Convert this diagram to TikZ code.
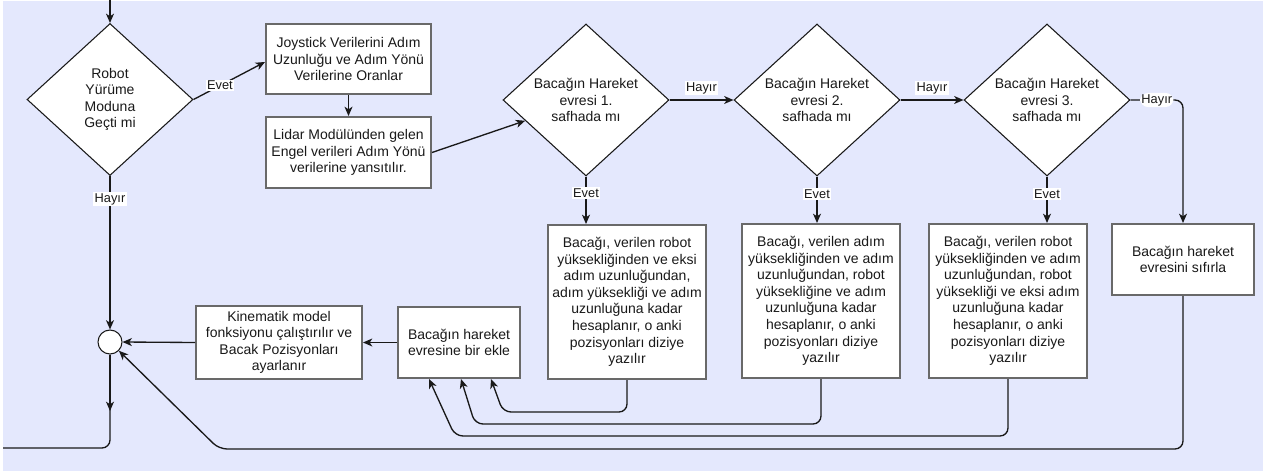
\documentclass[tikz,border=0pt]{standalone}
\usepackage{fontspec}
\setmainfont{Liberation Sans}
\usetikzlibrary{shapes.geometric,arrows.meta,calc}
\definecolor{bg}{RGB}{228,232,253}
\definecolor{boxgray}{RGB}{105,105,105}
\definecolor{ink}{RGB}{25,25,25}
\begin{document}
\begin{tikzpicture}[x=0.75pt,y=-0.75pt,
  box/.style={draw=boxgray, line width=1.5pt, fill=white, align=center,
    inner sep=2pt, text=ink, font=\fontsize{10.5}{12.4}\selectfont},
  dec/.style={diamond, draw=ink, line width=0.8pt, fill=white, align=center,
    inner sep=0pt, minimum width=124.5pt, minimum height=114pt, text=ink,
    font=\fontsize{10.5}{12.2}\selectfont},
  junction/.style={circle, draw=ink, line width=0.8pt, fill=white,
    minimum size=18pt, inner sep=0pt},
  con/.style={draw=ink, line width=1pt,
    -{Stealth[length=7pt,width=6pt,inset=2pt]}},
  plain/.style={draw=ink, line width=1pt},
  lab/.style={fill=white, inner sep=1pt, text=ink,
    font=\fontsize{9.6}{11}\selectfont},
]
% canvas
\fill[white] (0,0) rectangle (1263,471);
\fill[bg] (3,1) rectangle (1263,471);
\useasboundingbox (0,0) rectangle (1263,471);

% decisions
\node[dec] (d1) at (110,99.5) {Robot\\Yürüme\\Moduna\\Geçti mi};
\node[dec] (d2) at (586,100) {Bacağın Hareket\\evresi 1.\\safhada mı};
\node[dec] (d3) at (817,100) {Bacağın Hareket\\evresi 2.\\safhada mı};
\node[dec] (d4) at (1047,100) {Bacağın Hareket\\evresi 3.\\safhada mı};

% process boxes
\node[box, minimum width=123.75pt, minimum height=52.5pt] (joy) at (348.5,59)
  {Joystick Verilerini Adım\\Uzunluğu ve Adım Yönü\\Verilerine Oranlar};
\node[box, minimum width=123.75pt, minimum height=53.25pt] (lidar) at (348.5,152.5)
  {Lidar Modülünden gelen\\Engel verileri Adım Yönü\\verilerine yansıtılır.};
\node[box, minimum width=118.5pt, minimum height=115.5pt] (boxA) at (627,302)
  {Bacağı, verilen robot\\yüksekliğinden ve eksi\\adım uzunluğundan,\\adım yüksekliği ve adım\\uzunluğuna kadar\\hesaplanır, o anki\\pozisyonları diziye\\yazılır};
\node[box, minimum width=118.5pt, minimum height=115.5pt] (boxB) at (821,301)
  {Bacağı, verilen adım\\yüksekliğinden ve adım\\uzunluğundan, robot\\yüksekliğine ve adım\\uzunluğuna kadar\\hesaplanır, o anki\\pozisyonları diziye\\yazılır};
\node[box, minimum width=118.5pt, minimum height=115.5pt] (boxC) at (1008,301)
  {Bacağı, verilen robot\\yüksekliğinden ve adım\\uzunluğundan, robot\\yüksekliği ve eksi adım\\uzunluğuna kadar\\hesaplanır, o anki\\pozisyonları diziye\\yazılır};
\node[box, minimum width=106.5pt, minimum height=53.25pt] (reset) at (1183,259.5)
  {Bacağın hareket\\evresini sıfırla};
\node[box, minimum width=91.5pt, minimum height=53.25pt] (ekle) at (459,342.5)
  {Bacağın hareket\\evresine bir ekle};
\node[box, minimum width=124.5pt, minimum height=54.75pt] (kin) at (279,342.5)
  {Kinematik model\\fonksiyonu çalıştırılır ve\\Bacak Pozisyonları\\ayarlanır};
\node[junction] (circ) at (110,342) {};

% loose ends
\coordinate (top) at (110,0);
\coordinate (ldown) at (110,411);
\coordinate (lcorner) at (110,448);
\coordinate (lout) at (3,448);

% main flow
\draw[con] (top) -- (d1.north);
\draw[con] (d1.east) -- node[lab, pos=0.37] {Evet} ([yshift=-2.25pt]joy.west);
\draw[con] (d1.south) -- node[lab, pos=0.15] {Hayır} (circ.north);
\draw[con] (joy.south) -- (lidar.north);
\draw[con] (lidar.east) -- (d2);
\draw[con] (d2.east) -- node[lab, above=3pt] {Hayır} (d3.west);
\draw[con] (d3.east) -- node[lab, above=3pt] {Hayır} (d4.west);
\draw[con, rounded corners=6pt] (d4.east) -| node[lab, pos=0.25] {Hayır} (reset.north);
\draw[con] (d2.south) -- node[lab, pos=0.35] {Evet} (d2.south |- boxA.north);
\draw[con] (d3.south) -- node[lab, pos=0.38] {Evet} (d3.south |- boxB.north);
\draw[con] (d4.south) -- node[lab, pos=0.38] {Evet} (d4.south |- boxC.north);

% returns into the increment step
\draw[con, rounded corners=6pt] (boxA.south) |- (503,412) -- ([xshift=70.5pt]ekle.south west);
\draw[con, rounded corners=6pt] (boxB.south) |- (475,424) -- ([xshift=48pt]ekle.south west);
\draw[con, rounded corners=6pt] (boxC.south) |- (455,436) -- ([xshift=24pt]ekle.south west);
\draw[con, rounded corners=6pt] (reset.south) |- (219,449) -- (circ);

\draw[con] (ekle.west) -- (kin.east);
\draw[con] (kin.west) -- (circ.east);

% loop back
\draw[plain, rounded corners=6pt] (circ.south) -- (lcorner) -- (lout);
\draw[con] (circ.south) -- (ldown);
\end{tikzpicture}
\end{document}
